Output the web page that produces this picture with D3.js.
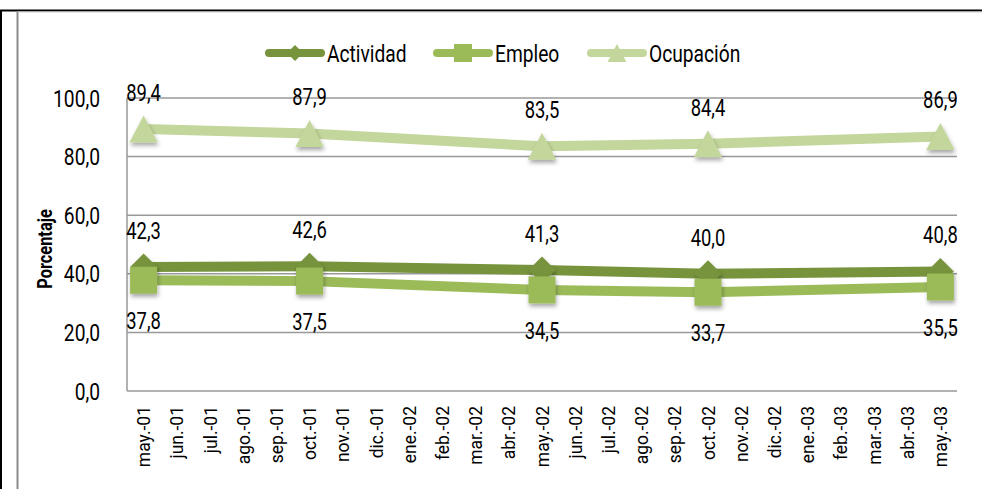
<!DOCTYPE html>
<html>
<head>
<meta charset="utf-8">
<script src="https://cdn.jsdelivr.net/npm/d3@7"></script>
<style>
  body { margin: 0; background: #fff; }
  svg { display: block; font-family: Roboto, "DejaVu Sans Condensed", sans-serif; }
</style>
</head>
<body>
<div id="chart"></div>
<script>
var months = ["may.-01", "jun.-01", "jul.-01", "ago.-01", "sep.-01", "oct.-01", "nov.-01", "dic.-01",
  "ene.-02", "feb.-02", "mar.-02", "abr.-02", "may.-02", "jun.-02", "jul.-02", "ago.-02", "sep.-02",
  "oct.-02", "nov.-02", "dic.-02", "ene.-03", "feb.-03", "mar.-03", "abr.-03", "may.-03"];
var dataMonths = ["may.-01", "oct.-01", "may.-02", "oct.-02", "may.-03"];
var actividad = [42.3, 42.6, 41.3, 40.0, 40.8];
var empleo = [37.8, 37.5, 34.5, 33.7, 35.5];
var ocupacion = [89.4, 87.9, 83.5, 84.4, 86.9];
var yTicks = [0, 20, 40, 60, 80, 100];

var width = 982, height = 489,
    plot = {left: 127, right: 957, top: 98, bottom: 391},
    squeeze = 0.8;   // the original font is a narrow one

var locale = d3.formatLocale({decimal: ",", thousands: ".", grouping: [3], currency: ["", ""]});
var fmt = locale.format(".1f");

var series = [
  {name: "Actividad", values: actividad, color: "#77933c", shape: "diamond", label: "above"},
  {name: "Empleo", values: empleo, color: "#9bbb59", shape: "square", label: "below"},
  {name: "Ocupación", values: ocupacion, color: "#c3d69b", shape: "triangle", label: "above"}
];

var x = d3.scaleBand().domain(months).range([plot.left, plot.right]);
var y = d3.scaleLinear().domain([0, 100]).range([plot.bottom, plot.top]);
var cx = function (m) { return x(m) + x.bandwidth() / 2; };

var svg = d3.select("#chart").append("svg")
  .attr("width", width)
  .attr("height", height);

var defs = svg.append("defs");
defs.append("filter").attr("id", "shadow")
  .attr("x", "-50%").attr("y", "-50%").attr("width", "200%").attr("height", "200%")
  .append("feDropShadow")
  .attr("dx", 1).attr("dy", 3).attr("stdDeviation", 2)
  .attr("flood-color", "#000").attr("flood-opacity", 0.35);

// outer frame
svg.append("line").attr("x1", 0).attr("x2", width).attr("y1", 10.5).attr("y2", 10.5)
  .attr("stroke", "#000").attr("stroke-width", 2);
svg.append("line").attr("x1", 1).attr("x2", 1).attr("y1", 10).attr("y2", height)
  .attr("stroke", "#000").attr("stroke-width", 2);
svg.append("line").attr("x1", 17.5).attr("x2", 17.5).attr("y1", 11).attr("y2", height)
  .attr("stroke", "#8c8c8c").attr("stroke-width", 2);
svg.append("line").attr("x1", 18).attr("x2", width).attr("y1", 12).attr("y2", 12)
  .attr("stroke", "#d0d0d0").attr("stroke-width", 1);

// grid
svg.append("g").selectAll("line")
  .data(yTicks)
  .enter().append("line")
    .attr("x1", plot.left).attr("x2", plot.right)
    .attr("y1", function (d) { return y(d); })
    .attr("y2", function (d) { return y(d); })
    .attr("stroke", "#999")
    .attr("stroke-width", 1.5);

svg.append("line")
  .attr("x1", plot.left).attr("x2", plot.left)
  .attr("y1", y(100)).attr("y2", y(0))
  .attr("stroke", "#999").attr("stroke-width", 1.5);

// y axis labels
svg.append("g").selectAll("text")
  .data(yTicks)
  .enter().append("text")
    .attr("transform", function (d) { return "translate(100," + (y(d) + 8.5) + ") scale(" + squeeze + ",1)"; })
    .attr("text-anchor", "end")
    .style("font-size", "24px")
    .attr("fill", "#000")
    .text(function (d) { return fmt(d); });

svg.append("text")
  .attr("transform", "translate(52,249) rotate(-90) scale(0.82,1)")
  .attr("text-anchor", "middle")
  .style("font-size", "20px")
  .style("font-weight", "bold")
  .attr("fill", "#000")
  .text("Porcentaje");

// x axis labels
svg.append("g").selectAll("text")
  .data(months)
  .enter().append("text")
    .attr("transform", function (d) { return "translate(" + (cx(d) + 6.5) + ",406) rotate(-90) scale(0.92,1)"; })
    .attr("text-anchor", "end")
    .style("font-size", "19px")
    .attr("fill", "#000")
    .text(function (d) { return d; });

function shapePath(shape, s) {
  if (shape === "diamond") return "M0," + (-s) + "L" + s + ",0L0," + s + "L" + (-s) + ",0Z";
  if (shape === "square") return "M" + (-s) + "," + (-s) + "H" + s + "V" + s + "H" + (-s) + "Z";
  return "M0," + (-s) + "L" + (s * 1.05) + "," + s + "H" + (-s * 1.05) + "Z";
}

var line = d3.line()
  .x(function (d) { return cx(d.m); })
  .y(function (d) { return y(d.v); });

series.forEach(function (s) {
  var pts = s.values.map(function (v, i) { return {m: dataMonths[i], v: v}; });
  var g = svg.append("g");
  g.append("path")
    .datum(pts)
    .attr("d", line)
    .attr("fill", "none")
    .attr("stroke", s.color)
    .attr("stroke-width", 10)
    .attr("stroke-linejoin", "round");
  g.selectAll("path.mark")
    .data(pts)
    .enter().append("path")
      .attr("class", "mark")
      .attr("d", shapePath(s.shape, 13.5))
      .attr("transform", function (d) { return "translate(" + cx(d.m) + "," + y(d.v) + ")"; })
      .attr("fill", s.color)
      .attr("filter", "url(#shadow)");
});

// data labels
series.forEach(function (s) {
  svg.append("g").selectAll("text")
    .data(s.values.map(function (v, i) { return {m: dataMonths[i], v: v}; }))
    .enter().append("text")
      .attr("transform", function (d) {
        var ty = s.label === "above" ? y(d.v) - 28 : y(d.v) + 49;
        return "translate(" + cx(d.m) + "," + ty + ") scale(" + squeeze + ",1)";
      })
      .attr("text-anchor", "middle")
      .style("font-size", "23px")
      .attr("fill", "#000")
      .text(function (d) { return fmt(d.v); });
});

// legend
var legendX = [265, 433, 587];
var legend = svg.append("g");
series.forEach(function (s, i) {
  var lg = legend.append("g").attr("transform", "translate(" + legendX[i] + ",53)");
  lg.append("line")
    .attr("x1", 4).attr("x2", 56)
    .attr("stroke", s.color)
    .attr("stroke-width", 8)
    .attr("stroke-linecap", "round");
  lg.append("path")
    .attr("d", shapePath(s.shape, s.shape === "diamond" ? 8 : 9))
    .attr("transform", "translate(30,0)")
    .attr("fill", s.color);
  lg.append("text")
    .attr("transform", "translate(62,8.5) scale(" + squeeze + ",1)")
    .style("font-size", "24px")
    .attr("fill", "#000")
    .text(s.name);
});
</script>
</body>
</html>
